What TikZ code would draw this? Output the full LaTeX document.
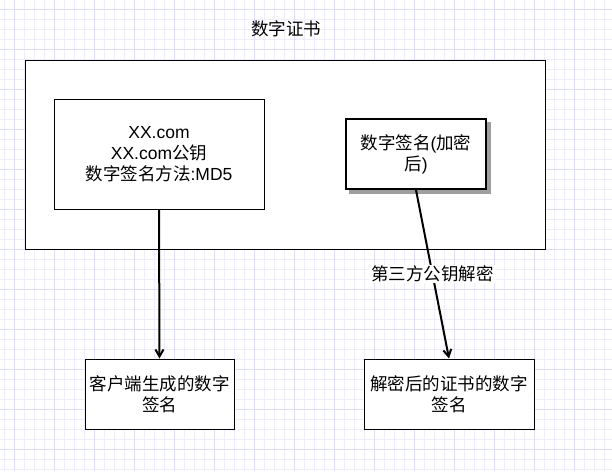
\documentclass[tikz,border=0pt]{standalone}
\usepackage{fontspec}
\setmainfont{Liberation Sans}
\newfontfamily\cjk{Noto Sans CJK SC}
\usetikzlibrary{arrows.meta,calc}
\definecolor{gridminor}{HTML}{EEEEFA}
\definecolor{gridmajor}{HTML}{DDDDF7}
\definecolor{shadowgray}{HTML}{9E9E9E}
\tikzset{
  txt/.style={font=\fontsize{17.5}{21}\selectfont, align=center, inner sep=0pt},
  box/.style={txt, draw=black, fill=white, line width=1pt, rectangle},
  thickbox/.style={box, line width=2pt},
  conn/.style={line width=2pt, -{Straight Barb[length=7pt,width=8pt]}},
  lbl/.style={txt, fill=white, inner sep=1pt},
}
\begin{document}
\begin{tikzpicture}[x=1pt,y=-1pt]
\useasboundingbox (0,0) rectangle (612,471);
\fill[white] (0,0) rectangle (612,471);
% grid
\foreach \x in {4,14,...,612} \draw[gridminor, line width=1pt] (\x,0) -- (\x,471);
\foreach \y in {9,19,...,471} \draw[gridminor, line width=1pt] (0,\y) -- (612,\y);
\foreach \x in {14,54,...,612} \draw[gridmajor, line width=1pt] (\x,0) -- (\x,471);
\foreach \y in {9,49,...,471} \draw[gridmajor, line width=1pt] (0,\y) -- (612,\y);

\node[txt] (title) at (286,28.5) {\cjk 数字证书};
\node[box, minimum width=520pt, minimum height=189pt] (cert) at (285,154.5) {};
\node[box, minimum width=210pt, minimum height=110pt] (info) at (159,154)
  {XX.com\\XX.com{\cjk 公钥}\\{\cjk 数字签名方法}:MD5};
\node[thickbox, minimum width=140pt, minimum height=70pt] (sig) at (416,154) {};
\fill[shadowgray] ($(sig.north west)+(4,4)$) rectangle ($(sig.south east)+(4,4)$);
\node[thickbox, minimum width=140pt, minimum height=70pt] (sig) at (416,154)
  {{\cjk 数字签名}({\cjk 加密}\\{\cjk 后})};
\node[box, minimum width=149pt, minimum height=70pt] (client) at (159.5,394)
  {\cjk 客户端生成的数字\\\cjk 签名};
\node[box, minimum width=170pt, minimum height=70pt] (dec) at (449,394)
  {\cjk 解密后的证书的数字\\\cjk 签名};

\draw[conn] (info.south) -- (client.north);
\draw[conn] (sig.south) -- node[lbl, pos=0.5] (lab) {\cjk 第三方公钥解密} (dec.north);
\end{tikzpicture}
\end{document}
